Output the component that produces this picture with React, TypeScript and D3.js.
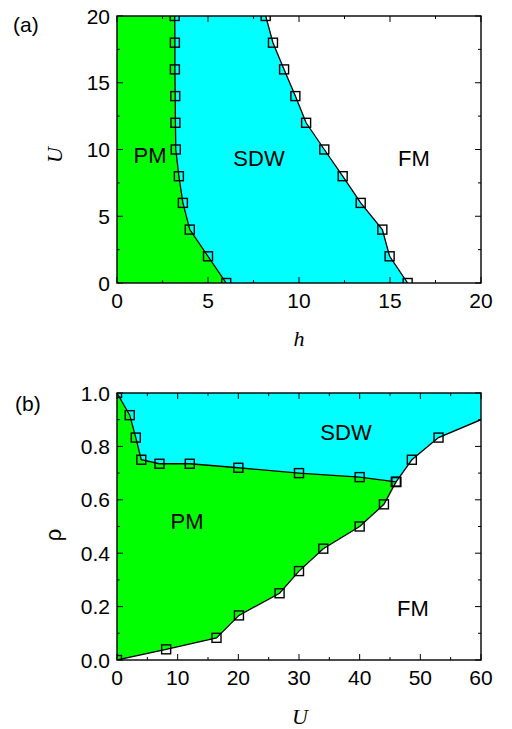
import React from "react";
import * as d3 from "d3";

// Panel (a): phase boundaries in (h, U)
const uValuesA = [0, 2, 4, 6, 8, 10, 12, 14, 16, 18, 20];
const hPMSDW = [6.0, 5.0, 4.0, 3.62, 3.4, 3.23, 3.21, 3.2, 3.18, 3.18, 3.17];
const hSDWFM = [15.97, 14.98, 14.58, 13.39, 12.4, 11.39, 10.39, 9.8, 9.18, 8.57, 8.17];
const xTicksA = [0, 5, 10, 15, 20];
const yTicksA = [0, 5, 10, 15, 20];

// Panel (b): phase boundaries in (U, rho)
const uPMSDW = [0, 2.1, 3.1, 4.0, 7.0, 12, 20, 30, 40, 46];
const rhoPMSDW = [1.0, 0.917, 0.833, 0.75, 0.735, 0.735, 0.72, 0.7, 0.685, 0.667];
const uPMFM = [0, 8.1, 16.4, 20.1, 26.8, 30, 34, 40, 44, 46];
const rhoPMFM = [0, 0.04, 0.083, 0.167, 0.25, 0.333, 0.417, 0.5, 0.583, 0.667];
const uSDWFM = [46, 48.6, 53];
const rhoSDWFM = [0.667, 0.75, 0.833];
const sdwFMEnd = [60, 0.9];
const xTicksB = [0, 10, 20, 30, 40, 50, 60];
const yTicksB = [0, 0.2, 0.4, 0.6, 0.8, 1.0];

const GREEN = "#00ff00";
const CYAN = "#00ffff";
const SANS = "'Liberation Sans', Arial, sans-serif";
const SERIF = "'Liberation Serif', 'Times New Roman', serif";

const L = 117, R = 481;

type P = [number, number];

function Frame({ x, y, xt, yt, xMinor, yMinor, fmtX, fmtY }: any) {
  const [x0, x1] = x.range();
  const [y0, y1] = y.range(); // y0 bottom, y1 top
  const major = 6, minor = 3;
  return (
    <g>
      {xMinor.map((v: number, i: number) => (
        <g key={"xm" + i}>
          <line x1={x(v)} x2={x(v)} y1={y0} y2={y0 - minor} stroke="#000" />
          <line x1={x(v)} x2={x(v)} y1={y1} y2={y1 + minor} stroke="#000" />
        </g>
      ))}
      {yMinor.map((v: number, i: number) => (
        <g key={"ym" + i}>
          <line x1={x0} x2={x0 + minor} y1={y(v)} y2={y(v)} stroke="#000" />
          <line x1={x1} x2={x1 - minor} y1={y(v)} y2={y(v)} stroke="#000" />
        </g>
      ))}
      {xt.map((v: number, i: number) => (
        <g key={"xt" + i}>
          <line x1={x(v)} x2={x(v)} y1={y0} y2={y0 - major} stroke="#000" />
          <line x1={x(v)} x2={x(v)} y1={y1} y2={y1 + major} stroke="#000" />
          <text x={x(v)} y={y0 + 25} textAnchor="middle" fontFamily={SANS} fontSize={21}>
            {fmtX(v)}
          </text>
        </g>
      ))}
      {yt.map((v: number, i: number) => (
        <g key={"yt" + i}>
          <line x1={x0} x2={x0 + major} y1={y(v)} y2={y(v)} stroke="#000" />
          <line x1={x1} x2={x1 - major} y1={y(v)} y2={y(v)} stroke="#000" />
          <text x={x0 - 7} y={y(v)} dy="0.36em" textAnchor="end" fontFamily={SANS} fontSize={21}>
            {fmtY(v)}
          </text>
        </g>
      ))}
      <rect x={x0} y={y1} width={x1 - x0} height={y0 - y1} fill="none" stroke="#000" strokeWidth={1.4} />
    </g>
  );
}

function Markers({ pts, x, y, clip }: any) {
  const s = 9;
  return (
    <g clipPath={`url(#${clip})`}>
      {pts.map((p: P, i: number) => (
        <rect key={i} x={x(p[0]) - s / 2} y={y(p[1]) - s / 2} width={s} height={s} fill="none" stroke="#000" strokeWidth={1.4} />
      ))}
    </g>
  );
}

export default function App() {
  // Panel (a)
  const xa = d3.scaleLinear().domain([0, 20]).range([L, R]);
  const ya = d3.scaleLinear().domain([0, 20]).range([283, 16]);
  const lineA = d3.line<P>().x((d) => xa(d[0])).y((d) => ya(d[1]));
  const pmA: P[] = uValuesA.map((u, i) => [hPMSDW[i], u]);
  const fmA: P[] = uValuesA.map((u, i) => [hSDWFM[i], u]);
  const greenA: P[] = [[0, 0], ...pmA, [0, 20]];
  const cyanA: P[] = [...pmA, ...fmA.slice().reverse()];

  // Panel (b)
  const xb = d3.scaleLinear().domain([0, 60]).range([L, R]);
  const yb = d3.scaleLinear().domain([0, 1]).range([660, 393]);
  const lineB = d3.line<P>().x((d) => xb(d[0])).y((d) => yb(d[1]));
  const upper: P[] = uPMSDW.map((u, i) => [u, rhoPMSDW[i]]);
  const lower: P[] = uPMFM.map((u, i) => [u, rhoPMFM[i]]);
  const sdwfm: P[] = uSDWFM.map((u, i) => [u, rhoSDWFM[i]]);
  const sdwfmLine: P[] = [...sdwfm, sdwFMEnd as P];
  const greenB: P[] = [...lower, ...upper.slice().reverse()];
  const cyanB: P[] = [...upper, ...sdwfmLine.slice(1), [60, 1], [0, 1]];

  const minorA = d3.range(0, 20.01, 2.5).filter((v) => v % 5 !== 0);
  const minorBx = d3.range(5, 60, 10);
  const minorBy = d3.range(0.1, 1, 0.2);

  return (
    <svg width={512} height={729} style={{ position: "absolute", left: 0, top: 0, background: "#fff" }}>
      <defs>
        <clipPath id="clipA">
          <rect x={L} y={16} width={R - L} height={283 - 16} />
        </clipPath>
        <clipPath id="clipB">
          <rect x={L} y={393} width={R - L} height={660 - 393} />
        </clipPath>
      </defs>

      {/* Panel (a) */}
      <g clipPath="url(#clipA)">
        <path d={lineA(cyanA) + "Z"} fill={CYAN} />
        <path d={lineA(greenA) + "Z"} fill={GREEN} />
        <path d={lineA(pmA)!} fill="none" stroke="#000" strokeWidth={1.3} />
        <path d={lineA(fmA)!} fill="none" stroke="#000" strokeWidth={1.3} />
      </g>
      <Markers pts={pmA} x={xa} y={ya} clip="clipA" />
      <Markers pts={fmA} x={xa} y={ya} clip="clipA" />
      <Frame x={xa} y={ya} xt={xTicksA} yt={yTicksA} xMinor={minorA} yMinor={minorA} fmtX={(v: number) => String(v)} fmtY={(v: number) => String(v)} />
      <text x={150} y={163} textAnchor="middle" fontFamily={SANS} fontSize={22}>PM</text>
      <text x={259} y={166} textAnchor="middle" fontFamily={SANS} fontSize={22}>SDW</text>
      <text x={414} y={166} textAnchor="middle" fontFamily={SANS} fontSize={22}>FM</text>
      <text x={13} y={32} fontFamily={SANS} fontSize={21}>(a)</text>
      <text transform="translate(62,155) rotate(-90)" textAnchor="middle" fontFamily={SERIF} fontStyle="italic" fontSize={22}>U</text>
      <text x={299} y={346} textAnchor="middle" fontFamily={SERIF} fontStyle="italic" fontSize={22}>h</text>

      {/* Panel (b) */}
      <g clipPath="url(#clipB)">
        <path d={lineB(cyanB) + "Z"} fill={CYAN} />
        <path d={lineB(greenB) + "Z"} fill={GREEN} />
        <path d={lineB(upper)!} fill="none" stroke="#000" strokeWidth={1.3} />
        <path d={lineB(lower)!} fill="none" stroke="#000" strokeWidth={1.3} />
        <path d={lineB(sdwfmLine)!} fill="none" stroke="#000" strokeWidth={1.3} />
      </g>
      <Markers pts={upper} x={xb} y={yb} clip="clipB" />
      <Markers pts={lower} x={xb} y={yb} clip="clipB" />
      <Markers pts={sdwfm} x={xb} y={yb} clip="clipB" />
      <Frame x={xb} y={yb} xt={xTicksB} yt={yTicksB} xMinor={minorBx} yMinor={minorBy} fmtX={(v: number) => String(v)} fmtY={(v: number) => v.toFixed(1)} />
      <text x={346} y={440} textAnchor="middle" fontFamily={SANS} fontSize={22}>SDW</text>
      <text x={187} y={529} textAnchor="middle" fontFamily={SANS} fontSize={22}>PM</text>
      <text x={413} y={616} textAnchor="middle" fontFamily={SANS} fontSize={22}>FM</text>
      <text x={15} y={411} fontFamily={SANS} fontSize={21}>(b)</text>
      <text transform="translate(61,535) rotate(-90)" textAnchor="middle" fontFamily={SANS} fontSize={22}>ρ</text>
      <text x={300} y={724} textAnchor="middle" fontFamily={SERIF} fontStyle="italic" fontSize={22}>U</text>
    </svg>
  );
}
